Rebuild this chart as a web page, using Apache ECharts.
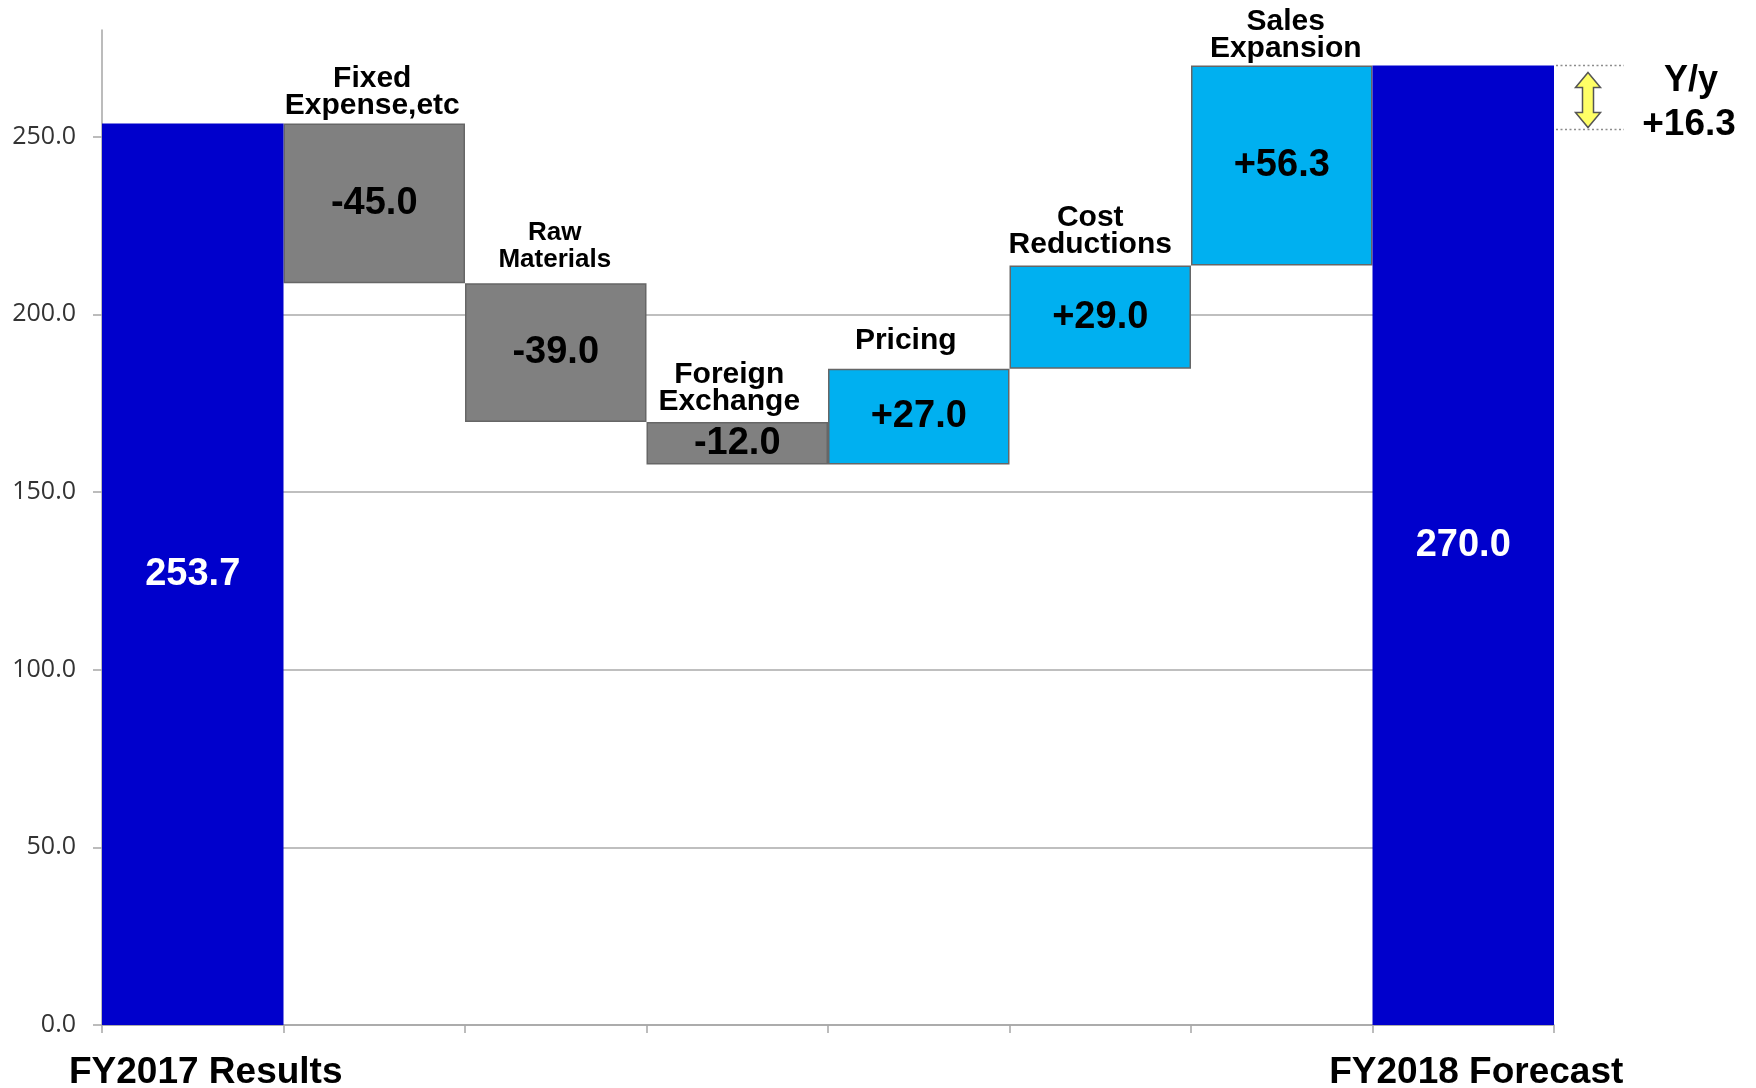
<!DOCTYPE html>
<html><head><meta charset="utf-8">
<script src="https://cdn.jsdelivr.net/npm/echarts@6/dist/echarts.min.js"></script>
<style>html,body{margin:0;padding:0;background:#fff}#c{width:1756px;height:1088px}</style>
</head><body><div id="c"></div>
<script>
const categories = ['FY2017 Results','Fixed Expense,etc','Raw Materials','Foreign Exchange','Pricing','Cost Reductions','Sales Expansion','FY2018 Forecast'];
const axisCategoryLabels = ['FY2017 Results','','','','','','','FY2018 Forecast'];
const stepLabels = ['', 'Fixed\nExpense,etc', 'Raw\nMaterials', 'Foreign\nExchange', 'Pricing', 'Cost\nReductions', 'Sales\nExpansion', ''];
const totals = [253.7, null, null, null, null, null, null, 270.0];
const deltas = [null, -45.0, -39.0, -12.0, 27.0, 29.0, 56.3, null];
const yTicks = [0, 50, 100, 150, 200, 250];
const yMin = 0, yMax = 280, yInterval = 50;

const BLUE = '#0000CC', GRAY = '#808080', CYAN = '#00B0F0';
const FONT = '"Liberation Sans", Arial, sans-serif';

// build waterfall pieces
let running = 0;
const baseData = [], bodyData = [], totalData = [], tops = [];
for (let i = 0; i < categories.length; i++) {
  if (totals[i] != null) {
    running = totals[i];
    baseData.push('-'); bodyData.push('-'); totalData.push(totals[i]); tops.push(null);
  } else {
    const d = deltas[i], start = running, end = +(running + d).toFixed(4);
    baseData.push(Math.min(start, end));
    bodyData.push(Math.abs(d));
    totalData.push('-');
    tops.push(Math.max(start, end));
    running = end;
  }
}

// label styling per step (style only, not data)
const stepLabelStyle = {
  1: {fontSize: 30, distance: 4, dx: -2},
  2: {fontSize: 26, distance: 10, dx: -1},
  3: {fontSize: 30, distance: 6, dx: -8},
  4: {fontSize: 30, distance: 14, dx: -13},
  5: {fontSize: 30, distance: 7, dx: -10},
  6: {fontSize: 30, distance: 3, dx: 4}
};
const stepLabelData = [];
for (let i = 0; i < categories.length; i++) {
  if (!stepLabels[i]) continue;
  const st = stepLabelStyle[i];
  stepLabelData.push({
    value: [i, tops[i]],
    label: {show: true, position: 'top', color: '#000000', fontWeight: 'bold', fontFamily: FONT,
            lineHeight: 27, fontSize: st.fontSize, distance: st.distance, offset: [st.dx, 0]}
  });
}

const chart = echarts.init(document.getElementById('c'), null, {renderer: 'canvas'});
const option = {
  animation: false,
  backgroundColor: '#fff',
  grid: {left: 102, right: 202, top: 30, bottom: 63, containLabel: false, outerBoundsMode: 'none'},
  xAxis: {
    type: 'category',
    data: categories,
    axisLine: {lineStyle: {color: '#a6a6a6', width: 1.5}},
    axisTick: {show: true, alignWithLabel: false, length: 8, lineStyle: {color: '#a6a6a6', width: 1.5}},
    axisLabel: {
      interval: 0, margin: 29,
      formatter: (v, idx) => axisCategoryLabels[idx],
      color: '#000', fontFamily: FONT, fontWeight: 'bold', fontSize: 37,
      padding: [0, 0, 0, 26]
    },
    splitLine: {show: false}
  },
  yAxis: {
    type: 'value', min: yMin, max: yMax, interval: yInterval,
    axisLine: {show: true, lineStyle: {color: '#a6a6a6', width: 1.5}},
    axisTick: {show: true, length: 9, customValues: yTicks, lineStyle: {color: '#a6a6a6', width: 1.5}},
    axisLabel: {
      customValues: yTicks, margin: 26,
      formatter: v => v.toFixed(1),
      color: '#333333', fontFamily: '"Open Sans", sans-serif', fontSize: 25
    },
    splitLine: {show: true, showMaxLine: false, lineStyle: {color: '#aaaaaa', width: 1.5}}
  },
  series: [
    {
      name: 'base', type: 'bar', stack: 'w', data: baseData, barWidth: '100%',
      itemStyle: {color: 'rgba(0,0,0,0)'}, emphasis: {disabled: true}, silent: true
    },
    {
      name: 'change', type: 'bar', stack: 'w', data: bodyData, barWidth: '100%',
      itemStyle: {
        color: p => deltas[p.dataIndex] < 0 ? GRAY : CYAN,
        borderColor: '#666666', borderWidth: 1.5
      },
      label: {
        show: true, position: 'inside',
        formatter: p => (deltas[p.dataIndex] > 0 ? '+' : '') + deltas[p.dataIndex].toFixed(1),
        color: '#000', fontFamily: FONT, fontWeight: 'bold', fontSize: 38
      }
    },
    {
      name: 'total', type: 'bar', stack: 'w', data: totalData, barWidth: '100%',
      itemStyle: {color: BLUE},
      label: {
        show: true, position: 'inside',
        formatter: p => Number(p.value).toFixed(1),
        color: '#fff', fontFamily: FONT, fontWeight: 'bold', fontSize: 38
      }
    },
    {
      name: 'names', type: 'scatter', data: stepLabelData, symbolSize: 1,
      itemStyle: {color: 'rgba(0,0,0,0)', opacity: 1}, silent: true,
      label: {
        show: true, position: 'top',
        formatter: p => stepLabels[p.value[0]],
        color: '#000000', fontFamily: FONT, fontWeight: 'bold', lineHeight: 27
      }
    }
  ]
};
chart.setOption(option);

// Y/y annotation, positioned through the chart's own scales
const yp = v => chart.convertToPixel({yAxisIndex: 0}, v);
const xp = i => chart.convertToPixel({xAxisIndex: 0}, i);
const bw = xp(1) - xp(0);
const right = xp(categories.length - 1) + bw / 2;
const yTop = yp(totals[totals.length - 1]);
const yBot = yp(totals[0]);
const change = totals[totals.length - 1] - totals[0];
const cx = right + 34, y1 = yTop + 7, y2 = yBot + 4;
const hw = 12.5, sw = 5.5, hh = 15;
chart.setOption({
  graphic: [
    {type: 'line', shape: {x1: right + 2, y1: yTop, x2: right + 70, y2: yTop},
     style: {stroke: '#8c8c8c', lineWidth: 1.5, lineDash: [2, 2.5]}},
    {type: 'line', shape: {x1: right + 2, y1: yBot + 6, x2: right + 70, y2: yBot + 6},
     style: {stroke: '#8c8c8c', lineWidth: 1.5, lineDash: [2, 2.5]}},
    {type: 'polygon', shape: {points: [
      [cx, y1], [cx + hw, y1 + hh], [cx + sw, y1 + hh], [cx + sw, y2 - hh], [cx + hw, y2 - hh],
      [cx, y2], [cx - hw, y2 - hh], [cx - sw, y2 - hh], [cx - sw, y1 + hh], [cx - hw, y1 + hh]
    ]}, style: {fill: '#FFFF66', stroke: '#555555', lineWidth: 1.5}},
    {type: 'text', style: {text: 'Y/y', x: right + 137, y: yTop + 16, align: 'center', verticalAlign: 'middle',
      fill: '#000', font: 'bold 36px ' + FONT}},
    {type: 'text', style: {text: (change >= 0 ? '+' : '') + change.toFixed(1), x: right + 135, y: yTop + 59,
      align: 'center', verticalAlign: 'middle', fill: '#000', font: 'bold 37px ' + FONT}}
  ]
});
</script>
</body></html>
